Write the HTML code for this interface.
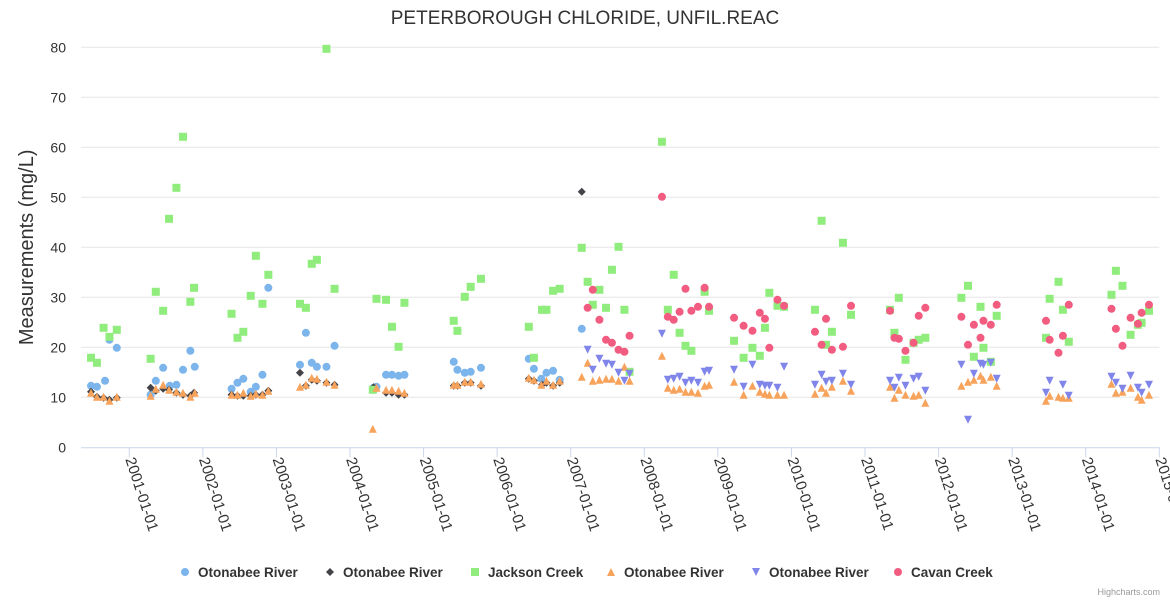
<!DOCTYPE html>
<html><head><meta charset="utf-8">
<style>
html,body{margin:0;padding:0;background:#fff;}
svg{display:block;font-family:"Liberation Sans","DejaVu Sans",sans-serif;}
</style></head>
<body>
<svg id="chart" width="1170" height="600" viewBox="0 0 1170 600"></svg>
<script>
// ---- data ----
const yTicks = [0,10,20,30,40,50,60,70,80];
const xTickYears = [2001,2002,2003,2004,2005,2006,2007,2008,2009,2010,2011,2012,2013,2014,2015];
const seriesNames = ["Otonabee River","Otonabee River","Jackson Creek","Otonabee River","Otonabee River","Cavan Creek"];
const seriesColors = ["#7cb5ec","#434348","#90ed7d","#f7a35c","#8085e9","#f15c80"];
const seriesSymbols = ["circle","diamond","square","triangle","triangle-down","circle"];

const blueYears = [2000.48,2000.56,2000.67,2000.73,2000.83,2001.29,2001.36,2001.46,2001.55,2001.64,2001.73,2001.83,2001.89,2002.39,2002.47,2002.55,2002.65,2002.72,2002.81,2002.89,2003.32,2003.40,2003.48,2003.55,2003.68,2003.79,2004.32,2004.36,2004.49,2004.57,2004.66,2004.74,2005.41,2005.46,2005.56,2005.64,2005.78,2006.43,2006.50,2006.60,2006.67,2006.76,2006.85,2007.15];
const blueValues = [12.3,12.1,13.3,21.5,19.9,10.5,13.3,15.9,12.3,12.5,15.5,19.3,16.1,11.7,12.9,13.7,11.1,12.1,14.5,31.9,16.5,22.9,16.9,16.1,16.1,20.3,11.9,12.1,14.5,14.5,14.3,14.5,17.1,15.5,14.9,15.1,15.9,17.7,15.7,13.7,14.9,15.3,13.5,23.7];

const blackYears = [2000.48,2000.56,2000.65,2000.73,2000.83,2001.29,2001.36,2001.46,2001.54,2001.64,2001.73,2001.83,2001.88,2002.39,2002.47,2002.55,2002.65,2002.72,2002.81,2002.89,2003.32,2003.40,2003.48,2003.55,2003.68,2003.79,2004.32,2004.49,2004.57,2004.66,2004.74,2005.41,2005.46,2005.56,2005.64,2005.78,2006.43,2006.50,2006.61,2006.67,2006.76,2006.85,2007.15];
const blackValues = [11.1,10.1,9.9,9.5,9.9,11.9,11.3,11.7,11.5,10.9,10.5,10.3,10.9,10.5,10.3,10.3,10.3,10.5,10.5,11.3,14.9,12.3,13.5,13.3,12.9,12.5,12.0,10.9,10.9,10.5,10.5,12.3,12.3,12.9,12.9,12.3,13.7,13.3,12.5,12.9,12.3,12.9,51.1];

const greenYears = [2000.48,2000.56,2000.65,2000.73,2000.83,2001.29,2001.36,2001.46,2001.54,2001.64,2001.73,2001.83,2001.88,2002.39,2002.47,2002.55,2002.65,2002.72,2002.81,2002.89,2003.32,2003.40,2003.48,2003.55,2003.68,2003.79,2004.31,2004.36,2004.49,2004.57,2004.66,2004.74,2005.41,2005.46,2005.56,2005.64,2005.78,2006.43,2006.50,2006.61,2006.67,2006.76,2006.85,2007.15,2007.23,2007.30,2007.39,2007.48,2007.56,2007.65,2007.73,2007.80,2008.24,2008.32,2008.40,2008.48,2008.56,2008.64,2008.82,2008.88,2009.22,2009.35,2009.47,2009.57,2009.64,2009.70,2009.81,2009.90,2010.32,2010.41,2010.47,2010.55,2010.70,2010.81,2011.34,2011.40,2011.46,2011.55,2011.66,2011.73,2011.82,2012.31,2012.40,2012.48,2012.57,2012.61,2012.71,2012.79,2013.46,2013.51,2013.63,2013.69,2013.77,2014.35,2014.41,2014.50,2014.61,2014.71,2014.76,2014.86];
const greenValues = [17.9,16.9,23.9,22.1,23.5,17.7,31.1,27.3,45.7,51.9,62.1,29.1,31.9,26.7,21.9,23.1,30.3,38.3,28.7,34.5,28.7,27.9,36.7,37.5,79.7,31.7,11.5,29.7,29.5,24.1,20.1,28.9,25.3,23.3,30.1,32.1,33.7,24.1,17.9,27.5,27.5,31.3,31.7,39.9,33.1,28.5,31.5,27.9,35.5,40.1,27.5,15.1,61.1,27.5,34.5,22.9,20.3,19.3,31.1,27.3,21.3,17.9,19.9,18.3,23.9,30.9,28.3,28.1,27.5,45.3,20.5,23.1,40.9,26.5,27.5,22.9,29.9,17.5,20.9,21.5,21.9,29.9,32.3,18.1,28.1,19.9,17.1,26.3,21.9,29.7,33.1,27.5,21.1,30.5,35.3,32.3,22.5,24.5,24.9,27.3];

const orangeYears = [2000.48,2000.56,2000.65,2000.73,2000.83,2001.29,2001.36,2001.46,2001.54,2001.64,2001.73,2001.83,2001.89,2002.39,2002.47,2002.55,2002.65,2002.72,2002.81,2002.89,2003.32,2003.40,2003.48,2003.55,2003.68,2003.79,2004.31,2004.36,2004.49,2004.57,2004.66,2004.74,2005.41,2005.46,2005.56,2005.64,2005.78,2006.43,2006.50,2006.60,2006.67,2006.76,2006.85,2007.15,2007.23,2007.30,2007.39,2007.48,2007.56,2007.65,2007.73,2007.80,2008.24,2008.32,2008.40,2008.48,2008.56,2008.64,2008.73,2008.82,2008.88,2009.22,2009.35,2009.47,2009.57,2009.64,2009.70,2009.81,2009.90,2010.32,2010.41,2010.47,2010.55,2010.70,2010.81,2011.34,2011.40,2011.46,2011.55,2011.66,2011.73,2011.82,2012.31,2012.40,2012.48,2012.57,2012.61,2012.71,2012.79,2013.46,2013.51,2013.63,2013.69,2013.77,2014.35,2014.41,2014.50,2014.61,2014.71,2014.76,2014.86];
const orangeValues = [10.9,10.1,10.1,9.3,10.1,10.3,11.7,12.5,11.5,11.1,10.9,10.1,10.9,10.5,10.5,10.9,10.3,10.7,10.5,11.3,12.1,12.5,13.9,13.7,13.1,12.5,3.7,11.9,11.5,11.5,11.3,10.9,12.5,12.5,13.1,13.1,12.7,13.9,13.5,12.5,13.3,12.5,13.3,14.1,16.9,13.3,13.5,13.7,13.7,13.3,16.1,13.3,18.3,11.9,11.5,11.7,11.1,11.1,10.9,12.3,12.5,13.1,10.5,12.3,11.1,10.7,10.5,10.5,10.5,10.7,11.9,10.9,12.1,13.3,11.3,12.1,9.9,11.5,10.5,10.3,10.5,8.9,12.3,13.1,13.5,14.3,13.5,14.1,12.3,9.3,10.3,10.1,9.9,9.9,12.7,10.9,11.1,11.9,10.1,9.5,10.5];

const purpleYears = [2007.23,2007.30,2007.39,2007.48,2007.56,2007.65,2007.73,2007.80,2008.24,2008.32,2008.40,2008.48,2008.56,2008.64,2008.73,2008.82,2008.88,2009.22,2009.35,2009.47,2009.57,2009.64,2009.70,2009.81,2009.90,2010.32,2010.41,2010.47,2010.55,2010.70,2010.81,2011.34,2011.40,2011.46,2011.55,2011.66,2011.73,2011.82,2012.31,2012.40,2012.48,2012.57,2012.61,2012.71,2012.79,2013.46,2013.51,2013.69,2013.77,2014.35,2014.41,2014.50,2014.61,2014.71,2014.76,2014.86];
const purpleValues = [19.5,15.5,17.7,16.7,16.5,14.9,13.3,14.7,22.7,13.5,13.7,14.1,12.9,13.3,12.9,15.1,15.3,15.5,12.1,16.5,12.5,12.3,12.3,11.9,16.1,12.5,14.5,13.1,13.3,14.7,12.5,13.3,11.9,13.9,12.3,13.7,14.1,11.3,16.5,5.5,14.7,16.7,16.5,16.9,13.7,10.9,13.3,12.5,10.3,14.1,12.9,11.7,14.3,11.9,10.9,12.5];

const pinkYears = [2007.23,2007.30,2007.39,2007.48,2007.56,2007.65,2007.73,2007.80,2008.24,2008.32,2008.40,2008.48,2008.56,2008.64,2008.73,2008.82,2008.88,2009.22,2009.35,2009.47,2009.57,2009.64,2009.70,2009.81,2009.90,2010.32,2010.41,2010.47,2010.55,2010.70,2010.81,2011.34,2011.40,2011.46,2011.55,2011.66,2011.73,2011.82,2012.31,2012.40,2012.48,2012.57,2012.61,2012.71,2012.79,2013.46,2013.51,2013.63,2013.69,2013.77,2014.35,2014.41,2014.50,2014.61,2014.71,2014.76,2014.86];
const pinkValues = [27.9,31.5,25.5,21.5,20.9,19.5,19.1,22.3,50.1,26.1,25.5,27.1,31.7,27.3,28.1,31.9,28.1,25.9,24.3,23.3,26.9,25.7,19.9,29.5,28.3,23.1,20.5,25.7,19.5,20.1,28.3,27.3,21.9,21.7,19.3,20.9,26.3,27.9,26.1,20.5,24.5,21.9,25.3,24.5,28.5,25.3,21.5,18.9,22.3,28.5,27.7,23.7,20.3,25.9,24.7,26.9,28.5];

const allYears = [blueYears,blackYears,greenYears,orangeYears,purpleYears,pinkYears];
const allValues = [blueValues,blackValues,greenValues,orangeValues,purpleValues,pinkValues];

// ---- axes ----
const plotL = 81, plotR = 1159.3, plotTop = 47.3, plotBot = 447.3;
const yMax = 80;
function yScale(v){ return plotBot - v/yMax*(plotBot-plotTop); }
function xScale(yr){ return 129.3 + (yr-2001)*73.57; }

const NS = "http://www.w3.org/2000/svg";
const svg = document.getElementById('chart');
function mk(tag, attrs, parent){
  const e = document.createElementNS(NS, tag);
  for (const k in attrs) e.setAttribute(k, attrs[k]);
  (parent||svg).appendChild(e);
  return e;
}

// title
const title = mk('text',{x:585,y:24,'text-anchor':'middle','font-size':19,fill:'#333333'});
title.textContent = 'PETERBOROUGH CHLORIDE, UNFIL.REAC';



// grid + y labels
yTicks.forEach(t=>{
  const y = yScale(t);
  if (t>0){
    const g = mk('line',{x1:plotL,x2:plotR,y1:y,y2:y,stroke:'#e6e6e6','stroke-width':1});
    
    
  }
  const l = mk('text',{x:66,y:y+5,'text-anchor':'end','font-size':14,fill:'#333333'});
  l.textContent = t;
  
  
});

// y title
const yt = mk('text',{x:0,y:0,'text-anchor':'middle','font-size':20,fill:'#333333',transform:'translate(33,'+((plotTop+plotBot)/2)+') rotate(-90)'});
yt.textContent = 'Measurements (mg/L)';



// x axis
const ax = mk('line',{x1:plotL,x2:plotR,y1:plotBot+0.5,y2:plotBot+0.5,stroke:'#ccd6eb','stroke-width':1});


xTickYears.forEach(yr=>{
  const x = xScale(yr);
  const tk = mk('line',{x1:x,x2:x,y1:plotBot,y2:plotBot+10,stroke:'#ccd6eb','stroke-width':1});
  
  
  const lb = mk('text',{x:0,y:0,'font-size':15,fill:'#333333',transform:'translate('+(x-4)+','+(plotBot+12)+') rotate(72)'});
  lb.textContent = yr+'-01-01';
  
  
});

// markers
function marker(sym, x, y, color, parent){
  let e;
  if (sym==='circle') e = mk('circle',{cx:x,cy:y,r:4,fill:color},parent);
  else if (sym==='square') e = mk('rect',{x:x-4,y:y-4,width:8,height:8,fill:color},parent);
  else if (sym==='diamond') e = mk('path',{d:`M${x} ${y-4}L${x+4} ${y}L${x} ${y+4}L${x-4} ${y}Z`,fill:color},parent);
  else if (sym==='triangle') e = mk('path',{d:`M${x} ${y-4}L${x+4} ${y+4}L${x-4} ${y+4}Z`,fill:color},parent);
  else e = mk('path',{d:`M${x-4} ${y-4}L${x+4} ${y-4}L${x} ${y+4}Z`,fill:color},parent);
  return e;
}
allYears.forEach((ys,si)=>{
  const g = mk('g',{});
  
  
  ys.forEach((yr,i)=>{
    const m = marker(seriesSymbols[si], xScale(yr), yScale(allValues[si][i]), seriesColors[si], g);
    
    
  });
});

// legend
const legendX = [185,330,475,611,756,898];
seriesNames.forEach((n,i)=>{
  const g = mk('g',{style:'cursor:pointer'});
  
  
  marker(seriesSymbols[i], legendX[i], 572, seriesColors[i], g);
  const t = mk('text',{x:legendX[i]+13,y:577,'font-size':13.5,'font-weight':'bold',fill:'#333333'},g);
  t.textContent = n;
});

// credits
const cr = mk('text',{x:1160,y:595,'text-anchor':'end','font-size':9,fill:'#999999'});
cr.textContent = 'Highcharts.com';


</script>
</body></html>
